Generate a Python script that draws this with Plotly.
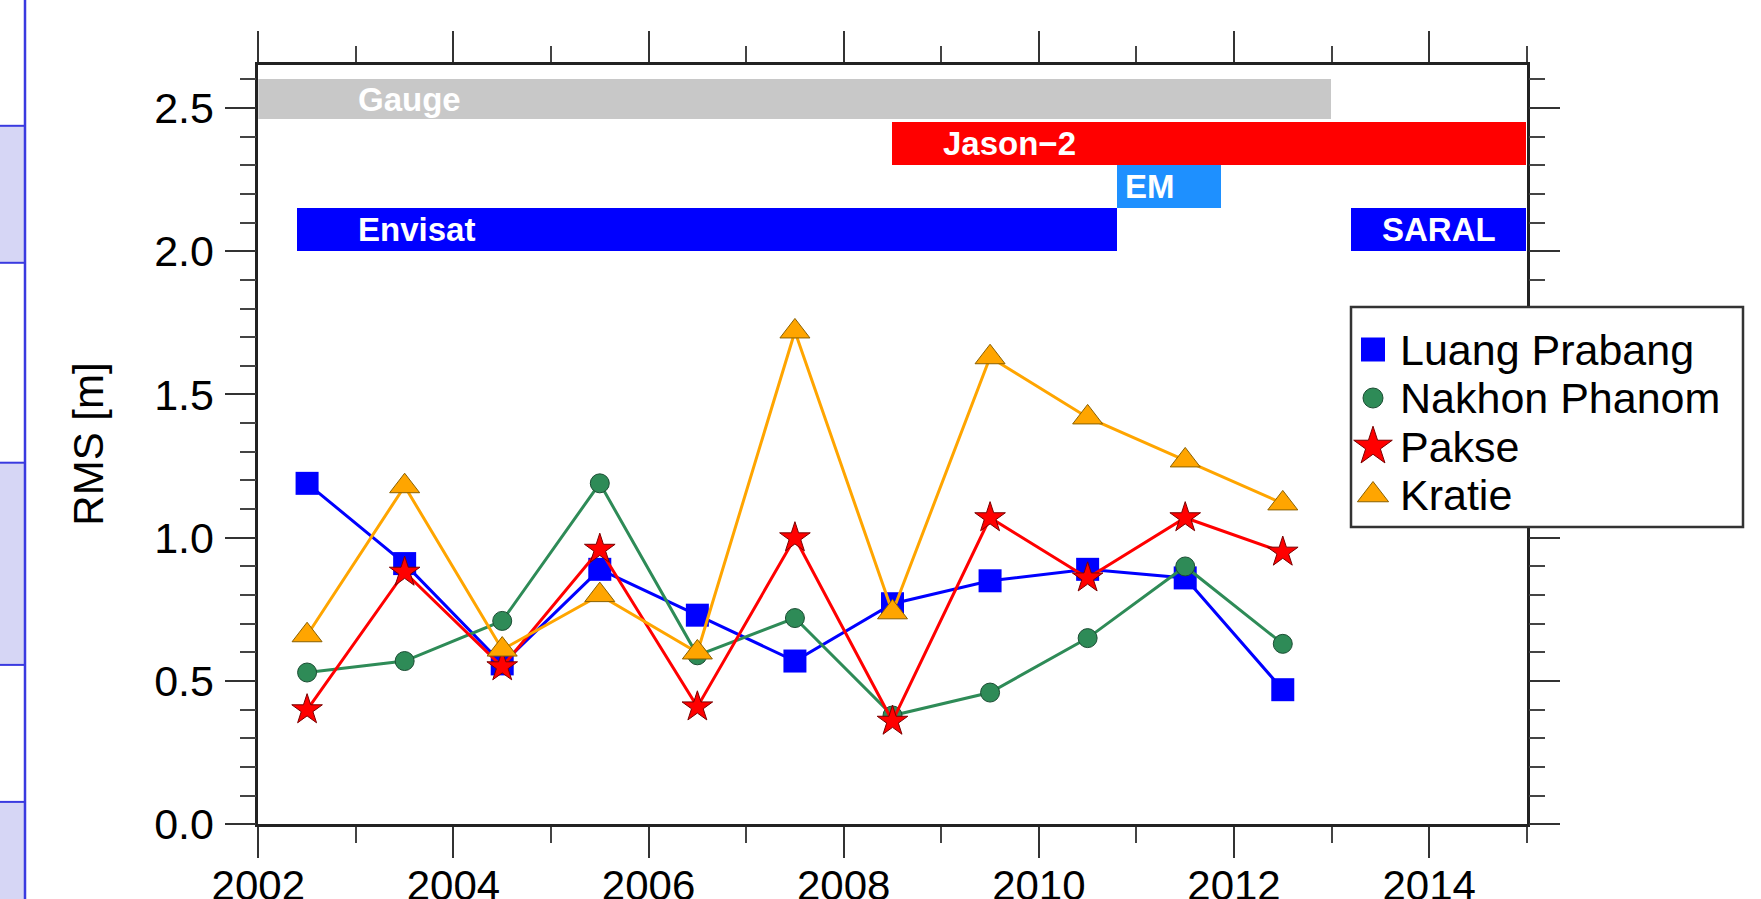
import plotly.graph_objects as go

W, H = 1761, 899

# ---------------- data ----------------
years = [2002.5, 2003.5, 2004.5, 2005.5, 2006.5, 2007.5, 2008.5, 2009.5, 2010.5, 2011.5, 2012.5]
luang_prabang = [1.19, 0.91, 0.56, 0.89, 0.73, 0.57, 0.77, 0.85, 0.89, 0.86, 0.47]
nakhon_phanom = [0.53, 0.57, 0.71, 1.19, 0.59, 0.72, 0.38, 0.46, 0.65, 0.90, 0.63]
pakse = [0.40, 0.88, 0.55, 0.96, 0.41, 1.00, 0.36, 1.07, 0.86, 1.07, 0.95]
kratie = [0.66, 1.18, 0.61, 0.80, 0.60, 1.72, 0.74, 1.63, 1.42, 1.27, 1.12]
series_names = ["Luang Prabang", "Nakhon Phanom", "Pakse", "Kratie"]

mission_names = ["Gauge", "Jason\u22122", "EM", "Envisat", "SARAL"]
mission_start = [2002.0, 2008.5, 2010.8, 2002.4, 2013.2]
mission_end = [2013.0, 2015.0, 2011.87, 2010.8, 2015.0]
mission_low = [2.46, 2.30, 2.15, 2.00, 2.00]
mission_high = [2.60, 2.45, 2.30, 2.15, 2.15]

y_ticks = [0.0, 0.5, 1.0, 1.5, 2.0, 2.5]
x_ticks = [2002, 2004, 2006, 2008, 2010, 2012, 2014]

# ---------------- styles ----------------
FONT = "Liberation Sans, Arial, Helvetica, sans-serif"
mission_colors = ["#c8c8c8", "#ff0000", "#1e90ff", "#0000ff", "#0000ff"]
label_offsets = [1.0, 0.5, 0.06, 0.6, 0.3]

series_style = [
    dict(color="#0000ff", symbol="square", size=23, lc="#0000ff", lw=0),
    dict(color="#2e8b57", symbol="circle", size=19, lc="#1b4d33", lw=1),
    dict(color="#ff0000", symbol="star", size=23, lc="#7a0000", lw=1),
    dict(color="#ffa500", symbol="triangle-up", size=26, lc="#8a6000", lw=1),
]
series_vals = [luang_prabang, nakhon_phanom, pakse, kratie]

# pixel layout
px_left, px_right = 258.3, 1526.7
px_top, px_bottom = 64.9, 824.4
leg_x0, leg_x1, leg_y0, leg_y1 = 1351, 1743, 307, 527

fig = go.Figure()

# mission bars
fig.add_trace(go.Bar(
    orientation="h",
    y=[(lo + hi) / 2 for lo, hi in zip(mission_low, mission_high)],
    x=[e - s for s, e in zip(mission_start, mission_end)],
    base=mission_start,
    width=[hi - lo for lo, hi in zip(mission_low, mission_high)],
    marker=dict(color=mission_colors, line=dict(width=0)),
    showlegend=False, hoverinfo="skip",
))

for name, vals, st in zip(series_names, series_vals, series_style):
    fig.add_trace(go.Scatter(
        x=years, y=vals, mode="lines+markers", name=name,
        line=dict(color=st["color"], width=3),
        marker=dict(symbol=st["symbol"], size=st["size"], color=st["color"],
                    line=dict(color=st["lc"], width=st["lw"])),
        showlegend=False, cliponaxis=False,
    ))

# manual legend symbols on an auxiliary axis (pixel units)
leg_sym_x = leg_x0 + 22
leg_row0 = 349.5
leg_step = 48.5
for i, (name, st) in enumerate(zip(series_names, series_style)):
    fig.add_trace(go.Scatter(
        x=[leg_sym_x], y=[leg_row0 + i * leg_step], mode="markers",
        marker=dict(symbol=st["symbol"], size=st["size"] + (6 if st["symbol"] == "star" else 1),
                    color=st["color"], line=dict(color=st["lc"], width=st["lw"])),
        xaxis="x2", yaxis="y2", showlegend=False, hoverinfo="skip", cliponaxis=False,
    ))

annotations = []
for name, s, lo, hi, off in zip(mission_names, mission_start, mission_low, mission_high, label_offsets):
    annotations.append(dict(
        x=s + off, y=(lo + hi) / 2, xref="x", yref="y", text=name, showarrow=False,
        xanchor="left", yanchor="middle",
        font=dict(family=FONT, size=33, color="white", weight="bold"),
    ))
for i, name in enumerate(series_names):
    annotations.append(dict(
        x=leg_x0 + 47, y=leg_row0 + i * leg_step, xref="x2", yref="y2", text=name,
        showarrow=False, xanchor="left", yanchor="middle",
        font=dict(family=FONT, size=43, color="black"),
    ))
annotations.append(dict(
    x=89 / W, y=1 - (px_top + px_bottom) / 2 / H, xref="paper", yref="paper",
    text="RMS [m]", textangle=-90, showarrow=False, xanchor="center", yanchor="middle",
    font=dict(family=FONT, size=42, color="black"),
))

def pxr(x0, y0, x1, y1):
    return dict(x0=x0 / W, x1=x1 / W, y0=1 - y0 / H, y1=1 - y1 / H)

shapes = []
# page table strip at the left
lav = "#d6d6f5"
edge = "#3a3ae0"
for (a, b) in [(125.8, 262.8), (462.7, 664.9), (801.9, 905)]:
    shapes.append(dict(type="rect", xref="paper", yref="paper", **pxr(-2, a, 25, b),
                       fillcolor=lav, line=dict(width=0), layer="below"))
for yy in [125.8, 262.8, 462.7, 664.9, 801.9]:
    shapes.append(dict(type="line", xref="paper", yref="paper", **pxr(0, yy, 25, yy),
                       line=dict(color=edge, width=2), layer="below"))
shapes.append(dict(type="line", xref="paper", yref="paper", **pxr(25, 0, 25, H),
                   line=dict(color=edge, width=2.5), layer="below"))
# legend frame
shapes.append(dict(type="rect", xref="paper", yref="paper", **pxr(leg_x0, leg_y0, leg_x1, leg_y1),
                   fillcolor="rgba(0,0,0,0)", line=dict(color="#333333", width=2.5), layer="above"))

axis_common = dict(
    showgrid=False, zeroline=False, showline=True, linecolor="#222222", linewidth=2.5,
    mirror="ticks", ticks="outside", ticklen=31, tickwidth=1.8, tickcolor="#333333",
    automargin=False,
)

fig.update_layout(
    width=W, height=H, margin=dict(l=0, r=0, t=0, b=0, pad=0, autoexpand=False),
    paper_bgcolor="white", plot_bgcolor="white",
    barmode="overlay", bargap=0,
    xaxis=dict(
        domain=[px_left / W, px_right / W], range=[2002, 2015],
        tickvals=x_ticks, tickformat="d",
        tickfont=dict(family=FONT, size=42, color="black"),
        minor=dict(dtick=1, tick0=2002, ticks="outside", ticklen=16, tickwidth=1.8, tickcolor="#444444"),
        ticklabelstandoff=-9,
        **axis_common,
    ),
    yaxis=dict(
        domain=[1 - px_bottom / H, 1 - px_top / H], range=[0, 2.65],
        tickvals=y_ticks, tickformat=".1f",
        tickfont=dict(family=FONT, size=43, color="black"),
        minor=dict(dtick=0.1, tick0=0, ticks="outside", ticklen=16, tickwidth=1.8, tickcolor="#444444"),
        ticklabelstandoff=2,
        **axis_common,
    ),
    xaxis2=dict(domain=[leg_x0 / W, leg_x1 / W], range=[leg_x0, leg_x1], visible=False,
                anchor="y2", automargin=False),
    yaxis2=dict(domain=[1 - leg_y1 / H, 1 - leg_y0 / H], range=[leg_y1, leg_y0], visible=False,
                anchor="x2", automargin=False),
    annotations=annotations,
    shapes=shapes,
    showlegend=False,
)

fig.write_html(
    "out.html",
    config={"displayModeBar": False},
    post_script="document.body.style.margin='0';document.body.style.overflow='hidden';",
)
